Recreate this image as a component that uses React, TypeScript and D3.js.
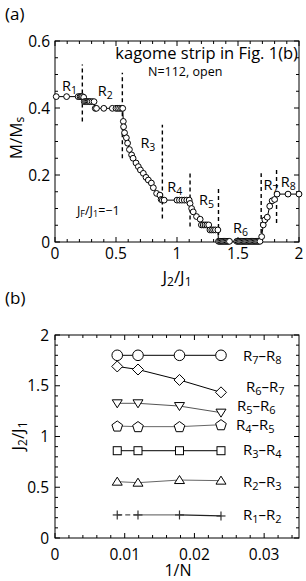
import React from "react";
import * as d3 from "d3";

// ---------- Panel (a) data ----------
const j2Values = [
  0.01, 0.095, 0.19, 0.205, 0.215, 0.225, 0.235,
  0.24, 0.25, 0.26, 0.27, 0.28, 0.29, 0.305, 0.32,
  0.33, 0.34, 0.4, 0.47, 0.5, 0.515, 0.53, 0.545, 0.555,
  0.56, 0.562, 0.57, 0.585, 0.595, 0.61, 0.628, 0.64, 0.664, 0.683, 0.7, 0.724, 0.746, 0.765, 0.79, 0.806, 0.833, 0.86, 0.87, 0.88, 0.895,
  1.0, 1.02, 1.04, 1.06, 1.08, 1.1,
  1.107, 1.12, 1.133, 1.16, 1.19, 1.2, 1.215, 1.23, 1.245, 1.26, 1.27, 1.285, 1.3, 1.315, 1.335,
  1.34, 1.35, 1.36, 1.37, 1.38, 1.39, 1.4, 1.41, 1.42, 1.43,
  1.49, 1.5, 1.51, 1.52, 1.53, 1.54, 1.55, 1.56, 1.57, 1.58, 1.59, 1.6, 1.61, 1.62, 1.63, 1.64, 1.65, 1.66, 1.67, 1.68,
  1.694, 1.707, 1.72, 1.74, 1.76, 1.78, 1.8, 1.82,
  1.91, 2.0,
];
const magValues = [
  0.434, 0.434, 0.434, 0.434, 0.434, 0.434, 0.432,
  0.419, 0.419, 0.419, 0.419, 0.419, 0.419, 0.419, 0.419,
  0.399, 0.399, 0.399, 0.399, 0.399, 0.399, 0.399, 0.399, 0.399,
  0.36, 0.344, 0.326, 0.311, 0.295, 0.276, 0.26, 0.25, 0.236, 0.225, 0.215, 0.205, 0.193, 0.185, 0.176, 0.162, 0.145, 0.14, 0.127, 0.125, 0.125,
  0.125, 0.125, 0.125, 0.125, 0.125, 0.125,
  0.115, 0.1, 0.09, 0.076, 0.068, 0.051, 0.051, 0.051, 0.051, 0.051, 0.036, 0.036, 0.036, 0.036, 0.036,
  0.002, 0.002, 0.002, 0.002, 0.002, 0.002, 0.002, 0.002, 0.002, 0.002,
  0.002, 0.002, 0.002, 0.002, 0.002, 0.002, 0.002, 0.002, 0.002, 0.002, 0.002, 0.002, 0.002, 0.002, 0.002, 0.002, 0.002, 0.002, 0.002, 0.002,
  0.016, 0.051, 0.066, 0.074, 0.107, 0.123, 0.127, 0.143,
  0.143, 0.143,
];
// boundaries: J2 position, lower M, upper M
const boundaryJ = [0.224, 0.552, 0.88, 1.107, 1.34, 1.69, 1.816];
const boundaryLo = [0.36, 0.25, 0.07, 0.046, 0.0, 0.027, 0.057];
const boundaryHi = [0.53, 0.505, 0.35, 0.21, 0.165, 0.205, 0.22];
const regionNames = ["1", "2", "3", "4", "5", "6", "7", "8"];
const regionJ = [0.057, 0.35, 0.7, 0.92, 1.18, 1.46, 1.71, 1.85];
const regionM = [0.451, 0.436, 0.28, 0.149, 0.11, 0.027, 0.155, 0.164];
const xTicksA = [0, 0.5, 1, 1.5, 2];
const xTickLabelsA = ["0", "0.5", "1", "1.5", "2"];
const yTicksA = [0, 0.2, 0.4, 0.6];
const yTickLabelsA = ["0", "0.2", "0.4", "0.6"];

// ---------- Panel (b) data ----------
const invN = [1 / 112, 1 / 84, 1 / 56, 1 / 42];
const seriesNames = ["R7–R8", "R6–R7", "R5–R6", "R4–R5", "R3–R4", "R2–R3", "R1–R2"];
const r7r8 = [1.8, 1.8, 1.8, 1.8];
const r6r7 = [1.69, 1.66, 1.557, 1.435];
const r5r6 = [1.327, 1.327, 1.3, 1.235];
const r4r5 = [1.103, 1.097, 1.097, 1.116];
const r3r4 = [0.86, 0.86, 0.86, 0.86];
const r2r3 = [0.555, 0.545, 0.571, 0.565];
const r1r2 = [0.227, 0.227, 0.227, 0.217];
const xTicksB = [0, 0.01, 0.02, 0.03];
const xTickLabelsB = ["0", "0.01", "0.02", "0.03"];
const yTicksB = [0, 0.5, 1, 1.5, 2];
const yTickLabelsB = ["0", "0.5", "1", "1.5", "2"];

const FONT = "'Open Sans', 'Noto Sans', sans-serif";

function pentagonPath(r: number) {
  const pts: [number, number][] = [];
  for (let i = 0; i < 5; i++) {
    const a = -Math.PI / 2 + (i * 2 * Math.PI) / 5;
    pts.push([r * Math.cos(a), r * Math.sin(a)]);
  }
  return "M" + pts.map((p) => p[0].toFixed(2) + "," + p[1].toFixed(2)).join("L") + "Z";
}

function Marker({ kind, x, y }: { kind: string; x: number; y: number }) {
  const common = { fill: "white", stroke: "black", strokeWidth: 1 };
  switch (kind) {
    case "circle":
      return <circle cx={x} cy={y} r={5.3} {...common} />;
    case "diamond":
      return <path d="M0,-5.5L5.5,0L0,5.5L-5.5,0Z" transform={`translate(${x},${y})`} {...common} />;
    case "tdown":
      return <path d="M-5,-3.5L5,-3.5L0,4.5Z" transform={`translate(${x},${y})`} {...common} />;
    case "pentagon":
      return <path d={pentagonPath(5.6)} transform={`translate(${x},${y + 0.5})`} {...common} />;
    case "square":
      return <rect x={x - 4} y={y - 4} width={8} height={8} {...common} />;
    case "tup":
      return <path d="M-5,3.5L5,3.5L0,-4.5Z" transform={`translate(${x},${y})`} {...common} />;
    case "plus":
      return (
        <g stroke="#333" strokeWidth={1.2}>
          <line x1={x - 4.5} x2={x + 4.5} y1={y} y2={y} />
          <line x1={x} x2={x} y1={y - 4.5} y2={y + 4.5} />
        </g>
      );
  }
  return null;
}

function Frame({
  x, y, minorX, minorY, majorX, majorY,
}: {
  x: d3.ScaleLinear<number, number>;
  y: d3.ScaleLinear<number, number>;
  minorX: number[]; minorY: number[]; majorX: number[]; majorY: number[];
}) {
  const [x0, x1] = x.range();
  const [y0, y1] = y.range();
  const ticks: React.ReactNode[] = [];
  minorX.forEach((v, i) => {
    const major = majorX.some((m) => Math.abs(m - v) < 1e-9);
    const L = major ? 5 : 3;
    const px = x(v);
    ticks.push(<line key={"bx" + i} x1={px} x2={px} y1={y0} y2={y0 - L} />);
    ticks.push(<line key={"tx" + i} x1={px} x2={px} y1={y1} y2={y1 + L} />);
  });
  minorY.forEach((v, i) => {
    const major = majorY.some((m) => Math.abs(m - v) < 1e-9);
    const L = major ? 5 : 3;
    const py = y(v);
    ticks.push(<line key={"ly" + i} x1={x0} x2={x0 + L} y1={py} y2={py} />);
    ticks.push(<line key={"ry" + i} x1={x1} x2={x1 - L} y1={py} y2={py} />);
  });
  return (
    <g stroke="black" strokeWidth={1} fill="none">
      <rect x={x0} y={y1} width={x1 - x0} height={y0 - y1} />
      {ticks}
    </g>
  );
}

export default function App() {
  // Panel (a) scales
  const xA = d3.scaleLinear().domain([0, 2]).range([55, 299]);
  const yA = d3.scaleLinear().domain([0, 0.6]).range([242, 41]);
  const lineA = d3.line<number>().x((_, i) => xA(j2Values[i])).y((_, i) => yA(magValues[i]));
  const minorXA = d3.range(0, 21).map((i) => i / 10);
  const minorYA = d3.range(0, 13).map((i) => i * 0.05);

  // Panel (b) scales
  const xB = d3.scaleLinear().domain([0, 0.035]).range([55, 299]);
  const yB = d3.scaleLinear().domain([0, 2]).range([538, 335]);
  const minorXB = d3.range(0, 18).map((i) => i * 0.002);
  const minorYB = d3.range(0, 21).map((i) => i * 0.1);

  const series = [r7r8, r6r7, r5r6, r4r5, r3r4, r2r3, r1r2];
  const kinds = ["circle", "diamond", "tdown", "pentagon", "square", "tup", "plus"];
  const lineColors = ["black", "black", "#555", "#666", "black", "#666", "#666"];
  const labelX = [243, 246, 237, 236, 243, 243, 243];
  const labelY = [361, 392, 411, 430, 455, 487, 520];
  const r1Seg = [
    { c: "#555", d: "5,3" },
    { c: "#777", d: undefined },
    { c: "#222", d: undefined },
  ];

  const lineB = (vals: number[]) =>
    d3.line<number>().x((_, i) => xB(invN[i])).y((v) => yB(v))(vals) || "";
  const segB = (vals: number[], k: number) =>
    d3.line<number>().x((_, i) => xB(invN[k + i])).y((v) => yB(v))(vals.slice(k, k + 2)) || "";

  return (
    <div style={{ position: "absolute", left: 0, top: 0 }}>
      <svg width={306} height={581} style={{ display: "block", fontFamily: FONT }}>
        <rect width={306} height={581} fill="white" />
        {/* ---------- Panel (a) ---------- */}
        <text x={5} y={20} fontSize={17}>(a)</text>
        <Frame x={xA} y={yA} minorX={minorXA} minorY={minorYA} majorX={xTicksA} majorY={yTicksA} />
        {xTicksA.map((t, i) => (
          <text key={"xa" + i} x={xA(t)} y={259} fontSize={15.5} textAnchor="middle">{xTickLabelsA[i]}</text>
        ))}
        {yTicksA.map((t, i) => (
          <text key={"ya" + i} x={50} y={yA(t) + 5.5} fontSize={15.5} textAnchor="end">{yTickLabelsA[i]}</text>
        ))}
        <text x={177} y={283} fontSize={17} textAnchor="middle">
          J<tspan fontSize={12} dy={3}>2</tspan><tspan dy={-3}>/J</tspan><tspan fontSize={12} dy={3}>1</tspan>
        </text>
        <text transform="translate(22,138) rotate(-90)" fontSize={17} textAnchor="middle">
          M/M<tspan fontSize={12} dy={2}>s</tspan>
        </text>
        <text x={298} y={59} fontSize={16.5} textAnchor="end">kagome strip in Fig. 1(b)</text>
        <text x={148} y={76} fontSize={12.5}>N=112, open</text>
        <text x={77} y={215} fontSize={12.5}>
          J<tspan fontSize={9} dy={2}>F</tspan><tspan dy={-2}>/J</tspan><tspan fontSize={9} dy={2}>1</tspan><tspan dy={-2}>=−1</tspan>
        </text>
        {boundaryJ.map((b, i) => (
          <line key={"bd" + i} x1={xA(b)} x2={xA(b)} y1={yA(boundaryLo[i])} y2={yA(boundaryHi[i])}
            stroke="black" strokeWidth={1.4} strokeDasharray="4,3" />
        ))}
        {regionNames.map((r, i) => (
          <text key={"rn" + i} x={xA(regionJ[i])} y={yA(regionM[i])} fontSize={14.5}>
            R<tspan fontSize={10.5} dy={3}>{r}</tspan>
          </text>
        ))}
        <path d={lineA(magValues) || ""} fill="none" stroke="black" strokeWidth={1} />
        {j2Values.map((j, i) => (
          <circle key={"pa" + i} cx={xA(j)} cy={yA(magValues[i])} r={2.9} fill="white" stroke="black" strokeWidth={1} />
        ))}

        {/* ---------- Panel (b) ---------- */}
        <text x={5} y={304} fontSize={17}>(b)</text>
        <Frame x={xB} y={yB} minorX={minorXB} minorY={minorYB} majorX={xTicksB} majorY={yTicksB} />
        {xTicksB.map((t, i) => (
          <text key={"xb" + i} x={xB(t)} y={560} fontSize={15.5} textAnchor="middle">{xTickLabelsB[i]}</text>
        ))}
        {yTicksB.map((t, i) => (
          <text key={"yb" + i} x={49} y={yB(t) + 5.5} fontSize={15.5} textAnchor="end">{yTickLabelsB[i]}</text>
        ))}
        <text x={178} y={576} fontSize={16} textAnchor="middle">1/N</text>
        <text transform="translate(24,436) rotate(-90)" fontSize={17} textAnchor="middle">
          J<tspan fontSize={12} dy={3}>2</tspan><tspan dy={-3}>/J</tspan><tspan fontSize={12} dy={3}>1</tspan>
        </text>
        {series.map((vals, si) => (
          <g key={"s" + si}>
            {si === 6 ? (
              r1Seg.map((s, k) => (
                <path key={"seg" + k} d={segB(vals, k)} fill="none" stroke={s.c} strokeWidth={1.2} strokeDasharray={s.d} />
              ))
            ) : (
              <path d={lineB(vals)} fill="none" stroke={lineColors[si]} strokeWidth={1} />
            )}
            {vals.map((v, i) => (
              <Marker key={i} kind={kinds[si]} x={xB(invN[i])} y={yB(v)} />
            ))}
            <text x={labelX[si]} y={labelY[si]} fontSize={15}>
              R<tspan fontSize={11} dy={2.5}>{seriesNames[si].charAt(1)}</tspan>
              <tspan dy={-2.5}>–R</tspan>
              <tspan fontSize={11} dy={2.5}>{seriesNames[si].charAt(4)}</tspan>
            </text>
          </g>
        ))}
      </svg>
    </div>
  );
}
